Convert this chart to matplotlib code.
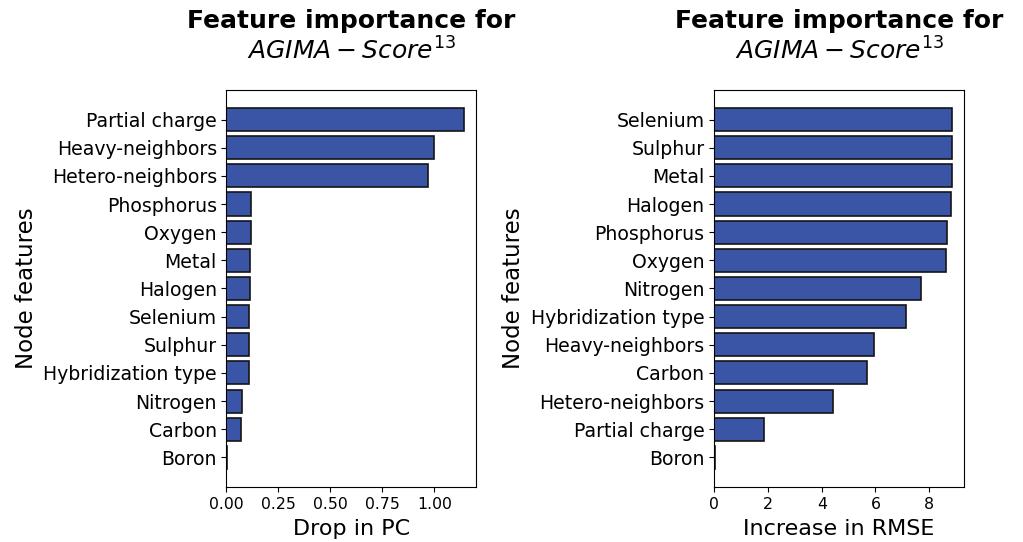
import matplotlib as mpl
mpl.use('Agg')
import matplotlib.pyplot as plt

# left panel: drop in PC
feat_pc = ['Partial charge', 'Heavy-neighbors', 'Hetero-neighbors', 'Phosphorus',
           'Oxygen', 'Metal', 'Halogen', 'Selenium', 'Sulphur',
           'Hybridization type', 'Nitrogen', 'Carbon', 'Boron']
drop_pc = [1.144, 1.00, 0.970, 0.117, 0.117, 0.114, 0.112, 0.109, 0.109,
           0.107, 0.077, 0.070, 0.001]

# right panel: increase in RMSE
feat_rmse = ['Selenium', 'Sulphur', 'Metal', 'Halogen', 'Phosphorus', 'Oxygen',
             'Nitrogen', 'Hybridization type', 'Heavy-neighbors', 'Carbon',
             'Hetero-neighbors', 'Partial charge', 'Boron']
inc_rmse = [8.85, 8.85, 8.84, 8.81, 8.67, 8.64, 7.69, 7.13, 5.95, 5.69,
            4.42, 1.86, 0.02]

title = 'Feature importance for\n$AGIMA-Score^{13}$'
barcol = '#3a55a5'

fig = plt.figure(figsize=(10.23, 5.42), dpi=100)
ax1 = fig.add_axes([0.2214, 0.1015, 0.2439, 0.7325])
ax2 = fig.add_axes([0.6982, 0.1015, 0.2441, 0.7325])

panels = [(ax1, feat_pc, drop_pc, 'Drop in PC'),
          (ax2, feat_rmse, inc_rmse, 'Increase in RMSE')]

for ax, feats, vals, xlab in panels:
    ax.barh(feats[::-1], vals[::-1], height=0.82, color=barcol,
            edgecolor='#151515', linewidth=1.2)
    ax.set_title(title, fontsize=18, fontweight='bold', pad=22)
    ax.set_xlabel(xlab, fontsize=16, labelpad=5)
    ax.set_ylabel('Node features', fontsize=16.5)
    ax.tick_params(axis='y', labelsize=13.6)
    ax.tick_params(axis='x', labelsize=11.3)

plt.savefig('out.png', dpi=100)
